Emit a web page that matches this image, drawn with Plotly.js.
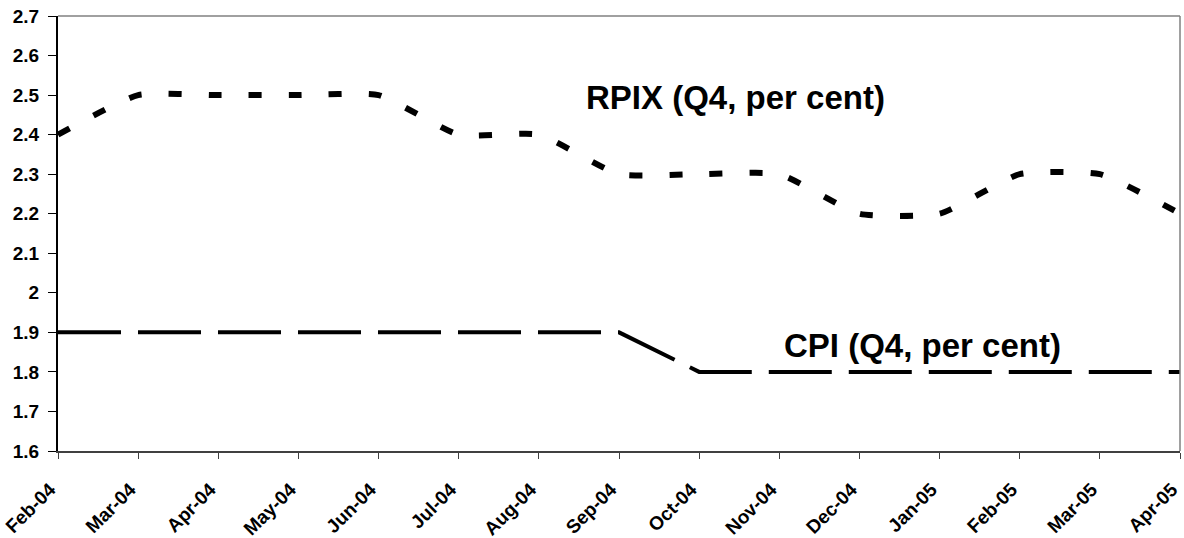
<!DOCTYPE html>
<html>
<head>
<meta charset="utf-8">
<script src="https://cdn.plot.ly/plotly-3.0.1.min.js"></script>
<style>html,body{margin:0;padding:0;background:#fff;}#chart{width:1184px;height:538px;}</style>
</head>
<body>
<div id="chart"></div>
<script>
const months = ["Feb-04","Mar-04","Apr-04","May-04","Jun-04","Jul-04","Aug-04","Sep-04","Oct-04","Nov-04","Dec-04","Jan-05","Feb-05","Mar-05","Apr-05"];
const rpix = [2.4,2.5,2.5,2.5,2.5,2.4,2.4,2.3,2.3,2.3,2.2,2.2,2.3,2.3,2.2];
const cpi = [1.9,1.9,1.9,1.9,1.9,1.9,1.9,1.9,1.8,1.8,1.8,1.8,1.8,1.8,1.8];
const rpixLabel = "RPIX (Q4, per cent)";
const cpiLabel = "CPI (Q4, per cent)";

const FONT = "Liberation Sans, Arial, sans-serif";

const traces = [
  {x: months, y: rpix, type: "scatter", mode: "lines", name: "RPIX",
   line: {color: "#000", width: 6, dash: "13px,27px", shape: "spline", smoothing: 0.5}},
  {x: months, y: cpi, type: "scatter", mode: "lines", name: "CPI",
   line: {color: "#000", width: 4, dash: "63px,17px"}}
];

const layout = {
  width: 1184, height: 538,
  margin: {l: 58, r: 4, t: 16, b: 87},
  paper_bgcolor: "#fff", plot_bgcolor: "#fff",
  showlegend: false,
  font: {family: FONT, color: "#000"},
  xaxis: {
    type: "category", range: [0, 14], showgrid: false, zeroline: false,
    showline: true, linecolor: "#404040", linewidth: 2,
    ticks: "outside", ticklen: 6, tickwidth: 1, tickcolor: "#404040",
    tickangle: -45, ticklabelstandoff: 12, ticklabelshift: -8,
    tickfont: {family: FONT, size: 19, color: "#000", weight: "bold"}
  },
  yaxis: {
    range: [1.6, 2.7], dtick: 0.1, tick0: 1.6, showgrid: false, zeroline: false,
    showline: true, linecolor: "#000", linewidth: 2,
    ticks: "outside", ticklen: 8, tickwidth: 1, tickcolor: "#000",
    ticklabelstandoff: 5,
    tickfont: {family: FONT, size: 19, color: "#000", weight: "bold"}
  },
  shapes: [
    {type: "line", xref: "paper", yref: "paper", x0: 0, x1: 1, y0: 1, y1: 1, line: {color: "#808080", width: 1.5}},
    {type: "line", xref: "paper", yref: "paper", x0: 1, x1: 1, y0: 0, y1: 1, line: {color: "#808080", width: 1.5}}
  ],
  annotations: [
    {x: 8.45, y: 2.495, xref: "x", yref: "y", text: "<b>" + rpixLabel + "</b>", showarrow: false,
     font: {family: FONT, size: 33, color: "#000"}},
    {x: 10.79, y: 1.866, xref: "x", yref: "y", text: "<b>" + cpiLabel + "</b>", showarrow: false,
     font: {family: FONT, size: 33, color: "#000"}}
  ]
};

Plotly.newPlot("chart", traces, layout, {displayModeBar: false, staticPlot: true});
</script>
</body>
</html>
